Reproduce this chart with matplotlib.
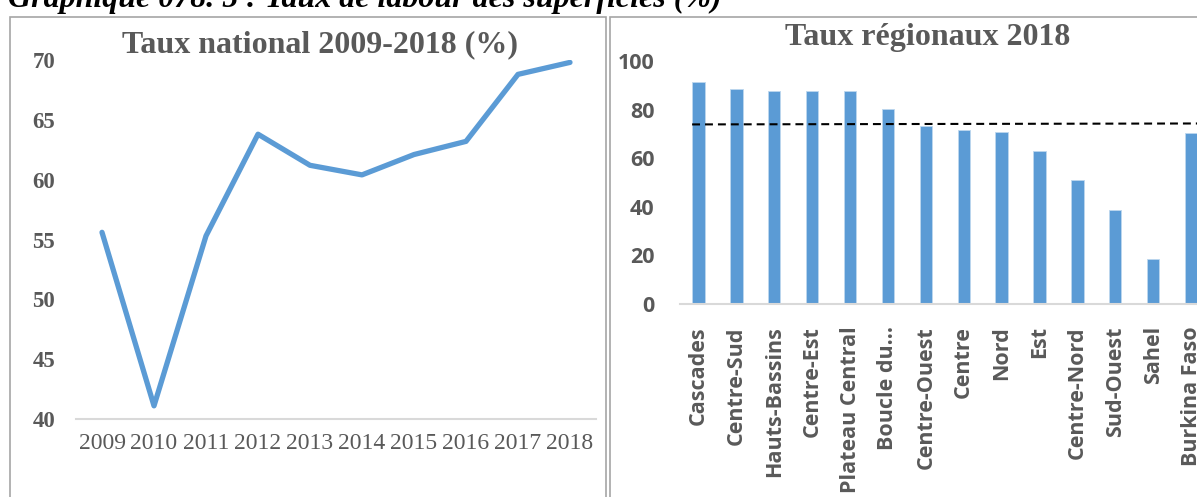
#! /bin/python3

# import required libraries
import matplotlib
matplotlib.use("Agg")
import matplotlib.pyplot as plt
from matplotlib.patches import Rectangle
import numpy as np

# national rate 2009-2018 (%)
years = ['2009', '2010', '2011', '2012', '2013', '2014', '2015', '2016', '2017', '2018']
national = [55.6, 41.1, 55.3, 63.8, 61.2, 60.4, 62.1, 63.2, 68.8, 69.8]

# regional rates 2018 (%)
regions = ['Cascades', 'Centre-Sud', 'Hauts-Bassins', 'Centre-Est', 'Plateau Central',
           'Boucle du...', 'Centre-Ouest', 'Centre', 'Nord', 'Est', 'Centre-Nord',
           'Sud-Ouest', 'Sahel', 'Burkina Faso']
regional = [91.2, 88.3, 87.8, 87.8, 87.7, 80.1, 73.3, 71.7, 70.8, 63.1, 50.9, 38.7, 18.7, 70.2]
ref_line = [73.9, 74.3]

W, H = 1197, 497
BLUE = '#5B9BD5'
GREY = '#595959'
AXIS = '#D9D9D9'
FRAME = '#A6A6A6'

fig = plt.figure(figsize=(W / 100, H / 100), dpi=100)

def px(x0, y0, x1, y1):
    # pixel box (top-left origin) -> figure fraction rect
    return [x0 / W, 1 - y1 / H, (x1 - x0) / W, (y1 - y0) / H]

# frames round the two charts
fig.patches.append(Rectangle((9.5 / W, -0.1), (606 - 9.5) / W, 0.1 + 1 - 17 / H,
                             transform=fig.transFigure, fill=False,
                             edgecolor=FRAME, lw=1.2))
fig.patches.append(Rectangle((610 / W, -0.1), 0.5, 0.1 + 1 - 17 / H,
                             transform=fig.transFigure, fill=False,
                             edgecolor=FRAME, lw=1.2))

# caption (cut at the top in the original)
fig.text(8 / W, 1 - 7 / H, 'Graphique 078. 5 : Taux de labour des superficies (%)',
         family='Liberation Serif', weight='bold', style='italic',
         fontsize=23, color='black', va='baseline', ha='left')

# ---- left: line chart
ax1 = fig.add_axes(px(76, 60, 596, 419))
x = np.arange(len(years))
ax1.plot(x, national, color=BLUE, lw=3.8, solid_capstyle='round', solid_joinstyle='round')
ax1.set_xlim(-0.5, len(years) - 0.5)
ax1.set_ylim(40, 70)
ax1.set_yticks(np.arange(40, 71, 5))
ax1.set_xticks(x)
ax1.set_xticklabels(years)
for s in ['top', 'right', 'left']:
    ax1.spines[s].set_visible(False)
ax1.spines['bottom'].set_color(AXIS)
ax1.spines['bottom'].set_linewidth(1.5)
ax1.tick_params(length=0)
ax1.tick_params(axis='y', pad=15)
ax1.tick_params(axis='x', pad=10)
for t in ax1.get_yticklabels():
    t.set_family('Liberation Serif'); t.set_weight('bold'); t.set_fontsize(16.5); t.set_color(GREY)
for t in ax1.get_xticklabels():
    t.set_family('Liberation Serif'); t.set_fontsize(17); t.set_color(GREY)
fig.text(320 / W, 1 - 52 / H, 'Taux national 2009-2018 (%)', family='Liberation Serif',
         weight='bold', fontsize=23, color=GREY, ha='center', va='baseline')

# ---- right: bar chart (runs off the right edge like the original)
ax2 = fig.add_axes(px(679.6, 61, 1210, 304))
xb = np.arange(len(regions))
ax2.bar(xb, regional, width=0.325, color=BLUE, edgecolor='#BDD7EE', lw=0.6)
ax2.plot([-0.17, len(regions) - 0.5], ref_line, color='black', lw=1.5,
         linestyle=(0, (3.8, 2.4)))
ax2.set_xlim(-0.5, len(regions) - 0.5)
ax2.set_ylim(0, 100)
ax2.set_yticks(np.arange(0, 101, 20))
ax2.set_xticks(xb)
ax2.set_xticklabels(regions, rotation=90)
for s in ['top', 'right', 'left']:
    ax2.spines[s].set_visible(False)
ax2.spines['bottom'].set_color(AXIS)
ax2.spines['bottom'].set_linewidth(1.5)
ax2.tick_params(length=0)
ax2.tick_params(axis='y', pad=18)
ax2.tick_params(axis='x', pad=16)
for t in ax2.get_yticklabels() + ax2.get_xticklabels():
    t.set_family('Open Sans'); t.set_weight('bold'); t.set_fontsize(15.5); t.set_color(GREY)
fig.text(928 / W, 1 - 45 / H, 'Taux régionaux 2018', family='Liberation Serif',
         weight='bold', fontsize=23, color=GREY, ha='center', va='baseline')

fig.savefig('out.png', dpi=100)
